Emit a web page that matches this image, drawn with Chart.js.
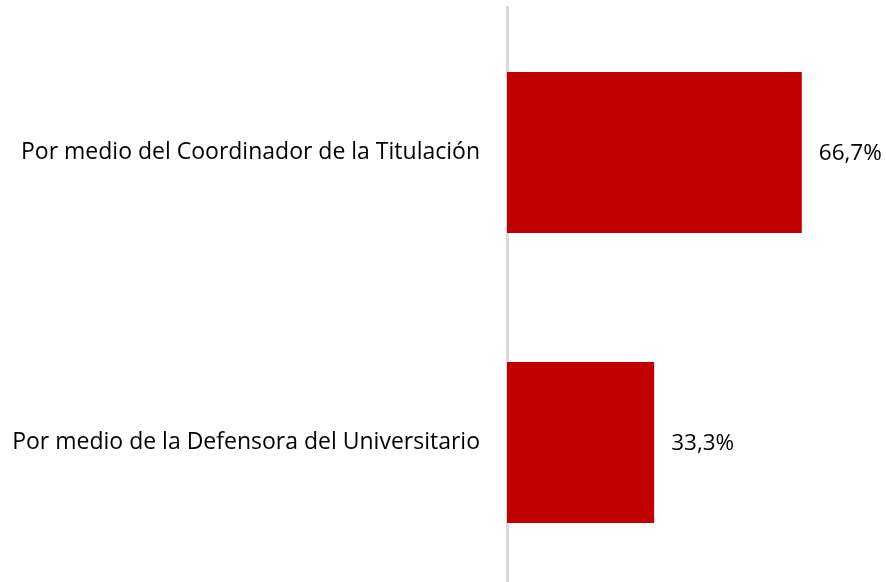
<!DOCTYPE html>
<html>
<head>
<meta charset="utf-8">
<script src="https://cdn.jsdelivr.net/npm/chart.js@4.4.1/dist/chart.umd.min.js"></script>
<style>
  html, body { margin: 0; padding: 0; background: #ffffff; overflow: hidden; }
  #wrap { position: relative; width: 886px; height: 592px; }
</style>
</head>
<body>
<div id="wrap"><canvas id="c" width="886" height="592"></canvas></div>
<script>
const categories = [
  "Por medio del Coordinador de la Titulación",
  "Por medio de la Defensora del Universitario"
];
const values = [66.7, 33.3];
const axisMax = 80;

const FONT = "'Open Sans'";
const labelFontSize = 23;
const valueFontSize = 22.5;

const valueLabels = {
  id: 'valueLabels',
  afterDatasetsDraw(chart) {
    const ctx = chart.ctx;
    const meta = chart.getDatasetMeta(0);
    ctx.save();
    ctx.font = valueFontSize + "px " + FONT;
    ctx.fillStyle = "#000000";
    ctx.textAlign = "left";
    ctx.textBaseline = "middle";
    meta.data.forEach((bar, i) => {
      const txt = values[i].toFixed(1).replace('.', ',') + '%';
      ctx.fillText(txt, bar.x + 17, bar.y + 1);
    });
    ctx.restore();
  }
};

new Chart(document.getElementById('c'), {
  type: 'bar',
  data: {
    labels: categories,
    datasets: [{
      data: values,
      backgroundColor: '#C00000',
      borderWidth: 0,
      categoryPercentage: 1,
      barPercentage: 0.555
    }]
  },
  options: {
    indexAxis: 'y',
    responsive: false,
    animation: false,
    layout: { padding: { top: 7.5, bottom: 4.5, left: 0, right: 25.4 } },
    plugins: { legend: { display: false }, tooltip: { enabled: false } },
    scales: {
      x: { display: false, min: 0, max: axisMax },
      y: {
        grid: { display: false, drawOnChartArea: false, drawTicks: false },
        border: { display: true, color: '#D9D9D9', width: 3 },
        ticks: {
          color: '#000000',
          padding: 27,
          font: { family: FONT, size: labelFontSize }
        },
        afterFit(scale) {
          scale.width = 507;
          scale.paddingTop = 0;
          scale.paddingBottom = 0;
        }
      }
    }
  },
  plugins: [valueLabels]
});
</script>
</body>
</html>
